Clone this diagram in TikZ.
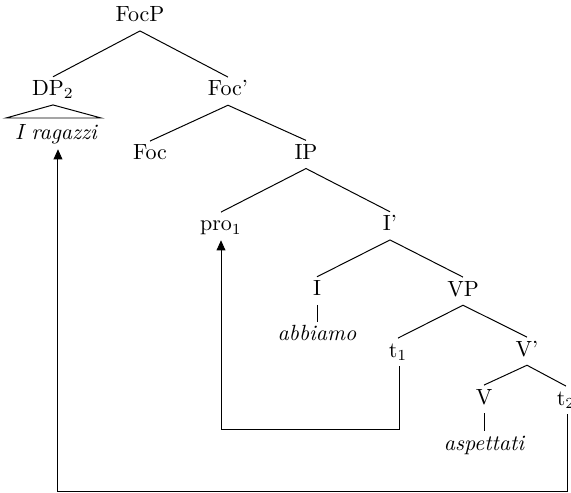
\documentclass[tikz,border=0pt]{standalone}
\usetikzlibrary{arrows.meta}
\begin{document}
\begin{tikzpicture}[x=0.4545pt,y=-0.4545pt,
  cat/.style={anchor=base,text height=6.8pt,text depth=2.4pt,inner sep=1.8pt,outer sep=0pt},
  lex/.style={cat,font=\itshape},
  branch/.style={line width=0.45pt},
  move/.style={line width=0.45pt,-{Triangle[length=4.6pt,width=4pt]}}]
\useasboundingbox (0,0) rectangle (571,493);
\clip (0,0) rectangle (571,493);
% nodes
\node[cat] (focp) at (140,21.7) {FocP};
\node[cat] (dp) at (53,95.7) {DP$_2$};
\node[cat] (focb) at (228,96) {Foc'};
\node[lex] (rag) at (56,140) {I ragazzi};
\node[cat] (foc) at (150,160) {Foc};
\node[cat] (ip) at (306,159.3) {IP};
\node[cat] (pro) at (221,231) {pro$_1$};
\node[cat] (ib) at (390,230.7) {I'};
\node[cat] (i) at (317,295.7) {I};
\node[cat] (vp) at (463,296) {VP};
\node[lex] (abb) at (317,340.7) {abbiamo};
\node[cat] (ta) at (398,357) {t$_1$};
\node[cat] (vb) at (527,356) {V'};
\node[cat] (v) at (484,404) {V};
\node[cat] (tb) at (566,405) {t$_2$};
\node[lex] (asp) at (484,450) {aspettati};
% branches
\draw[branch] (dp.north) -- (focp.south) -- (focb.north);
\draw[branch] (foc.north) -- (focb.south) -- (ip.north);
\draw[branch] (pro.north) -- (ip.south) -- (ib.north);
\draw[branch] (i.north) -- (ib.south) -- (vp.north);
\draw[branch] (ta.north) -- (vp.south) -- (vb.north);
\draw[branch] (v.north) -- (vb.south) -- (tb.north);
\draw[branch] (i.south) -- (abb.north);
\draw[branch] (v.south) -- (asp.north);
% triangle
\draw[branch] (dp.south) -- ([xshift=-22.7pt,yshift=1.4pt]rag.north) -- ([xshift=20.5pt,yshift=1.4pt]rag.north) -- cycle;
% movement arrows
\coordinate (low1) at (0,429);
\coordinate (low2) at (0,491);
\coordinate (tafoot) at ([xshift=0.9pt]ta.south);
\coordinate (tbfoot) at ([xshift=0.9pt]tb.south);
\coordinate (ragfoot) at ([xshift=0.9pt]rag.south);
\draw[move] (tafoot) |- (low1 -| pro.south) -- (pro.south);
\draw[move] (tbfoot) |- (low2 -| ragfoot) -- (ragfoot);
\end{tikzpicture}
\end{document}
